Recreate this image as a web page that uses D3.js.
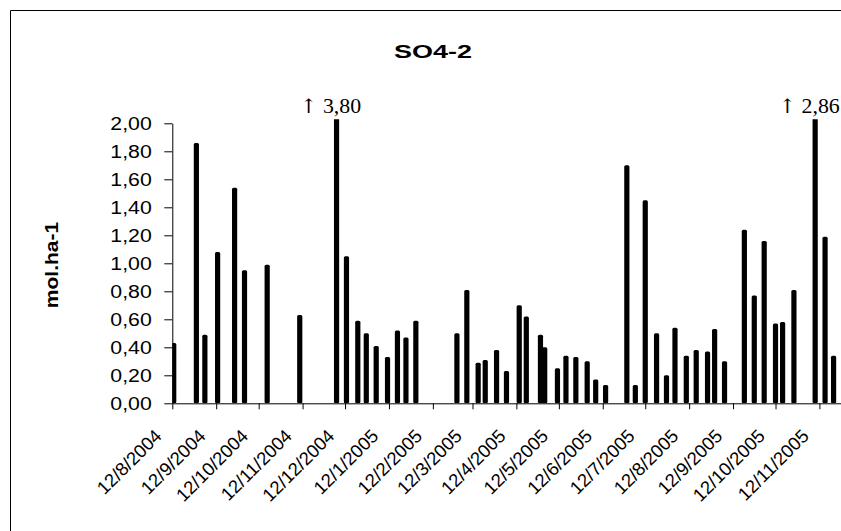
<!DOCTYPE html>
<html>
<head>
<meta charset="utf-8">
<script src="https://cdn.jsdelivr.net/npm/d3@7"></script>
<style>
  body { margin: 0; background: #fff; overflow: hidden; }
  svg { display: block; overflow: hidden; }
</style>
</head>
<body>
<svg id="chart" width="841" height="531"></svg>
<script>
// sampling dates (d/m/Y) and SO4-2 deposition values in mol.ha-1
const sampleDates = [
  "13/8/2004", "29/8/2004", "4/9/2004", "13/9/2004", "25/9/2004", "2/10/2004",
  "18/10/2004", "10/11/2004", "6/12/2004", "13/12/2004", "21/12/2004", "27/12/2004",
  "3/1/2005", "11/1/2005", "18/1/2005", "24/1/2005", "31/1/2005",
  "1/3/2005", "8/3/2005", "16/3/2005", "21/3/2005", "29/3/2005",
  "5/4/2005", "14/4/2005", "19/4/2005", "29/4/2005",
  "2/5/2005", "11/5/2005", "17/5/2005", "24/5/2005",
  "1/6/2005", "7/6/2005", "14/6/2005", "29/6/2005",
  "5/7/2005", "12/7/2005", "20/7/2005", "27/7/2005",
  "2/8/2005", "10/8/2005", "17/8/2005", "25/8/2005", "30/8/2005",
  "6/9/2005", "20/9/2005", "27/9/2005",
  "4/10/2005", "12/10/2005", "17/10/2005", "25/10/2005",
  "9/11/2005", "16/11/2005", "22/11/2005"
];
const so4Values = [
  0.43, 1.86, 0.49, 1.08, 1.54, 0.95,
  0.99, 0.63, 3.80, 1.05, 0.59, 0.50,
  0.41, 0.33, 0.52, 0.47, 0.59,
  0.50, 0.81, 0.29, 0.31, 0.38,
  0.23, 0.70, 0.62, 0.49,
  0.40, 0.25, 0.34, 0.33,
  0.30, 0.17, 0.13, 1.70,
  0.13, 1.45, 0.50, 0.20,
  0.54, 0.34, 0.38, 0.37, 0.53,
  0.30, 1.24, 0.77,
  1.16, 0.57, 0.58, 0.81,
  2.86, 1.19, 0.34
];
const xTickLabels = [
  "12/8/2004", "12/9/2004", "12/10/2004", "12/11/2004", "12/12/2004",
  "12/1/2005", "12/2/2005", "12/3/2005", "12/4/2005", "12/5/2005",
  "12/6/2005", "12/7/2005", "12/8/2005", "12/9/2005", "12/10/2005", "12/11/2005"
];
const yTickValues = [0, 0.2, 0.4, 0.6, 0.8, 1.0, 1.2, 1.4, 1.6, 1.8, 2.0];
const yMax = 2.0;
const xStart = "12/8/2004";
const xEnd = "30/11/2005";

const parseDate = d3.timeParse("%d/%m/%Y");
const data = sampleDates.map((d, i) => ({ date: parseDate(d), value: so4Values[i] }));

// comma as decimal separator
const locale = d3.formatLocale({ decimal: ",", thousands: ".", grouping: [3], currency: ["", ""] });
const fmt = locale.format(".2f");

// plot area
const plotLeft = 172.3;
const plotTop = 123.3;
const plotHeight = 280;
const pxPerDay = 1.416;
const days = d3.timeDay.count(parseDate(xStart), parseDate(xEnd));

const sans = "'Liberation Sans', Arial, sans-serif";
const svg = d3.select("#chart");

// outer chart frame (right and bottom edges fall outside the picture)
svg.append("path")
  .attr("d", "M10.5,531V10.5H841")
  .attr("fill", "none").attr("stroke", "#000").attr("stroke-width", 1);

const x = d3.scaleTime()
  .domain([parseDate(xStart), parseDate(xEnd)])
  .range([plotLeft, plotLeft + days * pxPerDay]);

const y = d3.scaleLinear()
  .domain([0, yMax])
  .range([plotTop + plotHeight, plotTop]);

// clip bars a little above the top of the value axis, like the original
svg.append("clipPath").attr("id", "plotClip")
  .append("rect")
  .attr("x", plotLeft).attr("y", plotTop - 4)
  .attr("width", days * pxPerDay).attr("height", plotHeight + 4);

const barWidth = 5.2;

svg.append("g")
  .attr("clip-path", "url(#plotClip)")
  .selectAll("rect")
  .data(data)
  .enter()
  .append("rect")
  .attr("x", (d) => x(d.date) - barWidth / 2)
  .attr("width", barWidth)
  .attr("y", (d) => y(d.value))
  .attr("height", (d) => y(0) - y(d.value))
  .attr("rx", 1.5)
  .attr("fill", "#000");

// y axis
const yAxis = svg.append("g")
  .attr("transform", "translate(" + plotLeft + ",0)")
  .call(d3.axisLeft(y).tickValues(yTickValues).tickSize(8).tickSizeOuter(0).tickFormat(fmt));

yAxis.select(".domain").attr("stroke", "#000");
yAxis.selectAll("text")
  .attr("font-family", sans)
  .attr("font-size", 18.5)
  .attr("fill", "#000")
  .attr("x", -17.9)
  .attr("dy", "0.36em")
  .attr("transform", "scale(1.15,1)");

// x axis
const xAxis = svg.append("g")
  .attr("transform", "translate(0," + (plotTop + plotHeight) + ")")
  .call(d3.axisBottom(x)
    .tickValues(xTickLabels.map(parseDate))
    .tickSize(6)
    .tickSizeOuter(0)
    .tickFormat((d, i) => xTickLabels[i]));

xAxis.select(".domain").attr("stroke", "#000");
xAxis.selectAll(".tick text")
  .attr("font-family", sans)
  .attr("font-size", 18.5)
  .attr("fill", "#000")
  .attr("text-anchor", "end")
  .attr("x", 0).attr("y", 0).attr("dy", 0)
  .attr("transform", "translate(-10,34) rotate(-45)");

// title
svg.append("text")
  .attr("x", 0).attr("y", 58)
  .attr("text-anchor", "middle")
  .attr("font-family", sans)
  .attr("font-weight", "bold")
  .attr("font-size", 19)
  .attr("transform", "translate(433,0) scale(1.42,1)")
  .text("SO4-2");

// y axis title
svg.append("text")
  .attr("text-anchor", "middle")
  .attr("font-family", sans)
  .attr("font-weight", "bold")
  .attr("font-size", 18)
  .attr("transform", "translate(58,265) rotate(-90) scale(1.17,1)")
  .text("mol.ha-1");

// labels for the bars that go off the scale
const offscale = svg.selectAll(".offscale")
  .data(data.filter((d) => d.value > yMax))
  .enter()
  .append("text")
  .attr("class", "offscale")
  .attr("x", 0)
  .attr("y", 0)
  .attr("text-anchor", "start")
  .attr("transform", (d) => "translate(" + (x(d.date) - 36.5) + ",112.5) scale(1.04,1)")
  .attr("font-family", "'Liberation Serif', 'Times New Roman', serif")
  .attr("font-size", 21)
  .attr("fill", "#000");

offscale.append("tspan")
  .attr("font-family", "'DejaVu Serif', serif")
  .attr("font-size", 20)
  .text("\u2191\uFE0E");
offscale.append("tspan")
  .text((d) => " " + fmt(d.value));
</script>
</body>
</html>
